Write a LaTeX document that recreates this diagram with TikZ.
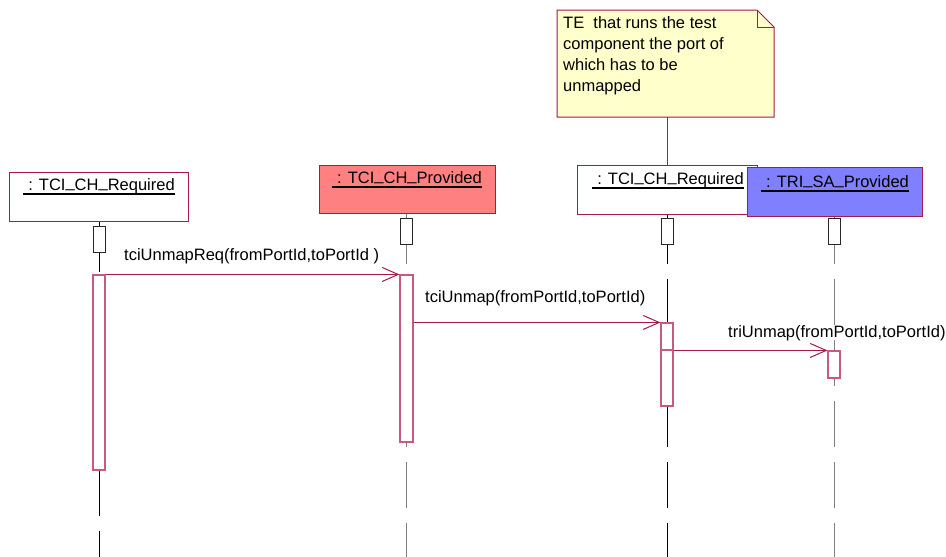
\documentclass[tikz,border=0pt]{standalone}
\usepackage{fontspec}
\setmainfont{Liberation Sans}
\usetikzlibrary{arrows.meta,calc}
\definecolor{crim}{RGB}{165,25,75}
\definecolor{actpink}{RGB}{200,90,130}
\definecolor{noteyel}{RGB}{255,255,204}
\definecolor{provred}{RGB}{255,128,128}
\definecolor{provblue}{RGB}{128,128,255}
\definecolor{lgray}{RGB}{128,128,128}
\newcommand\us{\raisebox{2.2pt}{\_}}
\tikzset{
  hdr/.style={draw=crim, line width=1pt, rectangle, inner sep=0pt},
  hdrtext/.style={anchor=base, inner sep=0pt, font=\fontsize{16.5}{20}\selectfont},
  ctl/.style={draw=black!85, fill=white, line width=0.9pt, rectangle, inner sep=0pt, minimum width=12pt},
  act/.style={draw=actpink, fill=white, line width=1.1pt, rectangle, inner sep=0pt, minimum width=12pt},
  life/.style={line width=1pt, dash pattern=on 46pt off 15pt},
  msg/.style={draw=crim, line width=1pt, -{Straight Barb[length=16pt,width=14pt,line width=1pt]}},
  msglabel/.style={anchor=base west, inner sep=0pt, font=\fontsize{16.5}{20}\selectfont},
  uline/.style={line width=1.5pt, black}
}
\begin{document}
\begin{tikzpicture}[x=1pt,y=-1pt]
\useasboundingbox (0,0) rectangle (946,557);
\fill[white] (0,0) rectangle (946,557);

% ---- note ----
\path[draw=crim, fill=noteyel, line width=1pt]
  (557,10) -- (757,10) -- (774,27) -- (774,117) -- (557,117) -- cycle;
\draw[crim, line width=1pt] (757,10) -- (757,27) -- (774,27);
\coordinate (notebot) at (667,117);
\node[anchor=base west, inner sep=0pt, align=left, font=\fontsize{16.5}{21}\selectfont] (notetext) at (563,91)
  {TE\ \ that runs the test\\component the port of\\which has to be\\unmapped};

% ---- lifelines (dashed, under boxes) ----
\draw[life, black] (99,226) -- (99,557);
\draw[life, lgray] (406,218) -- (406,557);
\draw[life, black] (667,218) -- (667,557);
\draw[life, lgray] (834,218) -- (834,557);

% ---- headers ----
\node[hdr, fill=white, minimum width=179pt, minimum height=49pt] (h1) at (98.5,196.5) {};
\node[hdr, fill=provred, minimum width=176pt, minimum height=48pt] (h2) at (407,189) {};
\node[hdr, fill=white, minimum width=180pt, minimum height=49pt] (h3) at (667,189.5) {};
\node[hdr, fill=provblue, minimum width=175pt, minimum height=49pt] (h4) at (834.5,191.5) {};

\node[hdrtext] (t1) at (99,190) {\hspace*{5pt}: TCI\us CH\us Required};
\draw[uline] ($(t1.base west)+(0,4)$) -- ($(t1.base east)+(0,4)$);
\node[hdrtext] (t2) at (407,183) {\hspace*{5pt}: TCI\us CH\us Provided};
\draw[uline] ($(t2.base west)+(0,4)$) -- ($(t2.base east)+(0,4)$);
\node[hdrtext] (t3) at (668,184) {\hspace*{5pt}: TCI\us CH\us Required};
\draw[uline] ($(t3.base west)+(0,4)$) -- ($(t3.base east)+(0,4)$);
\node[hdrtext] (t4) at (835,187) {\hspace*{5pt}: TRI\us SA\us Provided};
\draw[uline] ($(t4.base west)+(0,4)$) -- ($(t4.base east)+(0,4)$);

% note connector
\draw[crim, line width=1pt] (notebot) -- (h3.north -| notebot);

% ---- control focus boxes ----
\node[ctl, minimum height=26pt] (c1) at (99,239) {};
\node[ctl, minimum height=26pt] (c2) at (406,231) {};
\node[ctl, minimum height=26pt] (c3) at (667,231) {};
\node[ctl, minimum height=26pt] (c4) at (834,231) {};
\draw[black, line width=1pt] (h1.south -| c1) -- (c1.north);
\draw[lgray, line width=1pt] (h2.south -| c2) -- (c2.north);
\draw[black, line width=1pt] (h3.south -| c3) -- (c3.north);
\draw[lgray, line width=1pt] (h4.south -| c4) -- (c4.north);

% ---- activations ----
\node[act, minimum height=195pt] (a1) at (99,372.5) {};
\node[act, minimum width=13pt, minimum height=167pt] (a2) at (406.5,358.5) {};
\node[act, minimum height=27pt] (a3a) at (667,336.5) {};
\node[act, minimum height=56pt] (a3b) at (667,378) {};
\node[act, minimum height=27pt] (a4) at (834,364.5) {};

% ---- messages ----
\draw[msg] (a1.east |- a2.north) -- (a2.north west);
\node[msglabel] (m1) at (124,260) {tciUnmapReq(fromPortId,toPortId )};
\draw[msg] (a2.east |- a3a.north) -- (a3a.north west);
\node[msglabel] (m2) at (425,302) {tciUnmap(fromPortId,toPortId)};
\draw[msg] (a3b.east |- a4.north) -- (a4.north west);
\node[msglabel] (m3) at (728,337) {triUnmap(fromPortId,toPortId)};
\end{tikzpicture}
\end{document}
